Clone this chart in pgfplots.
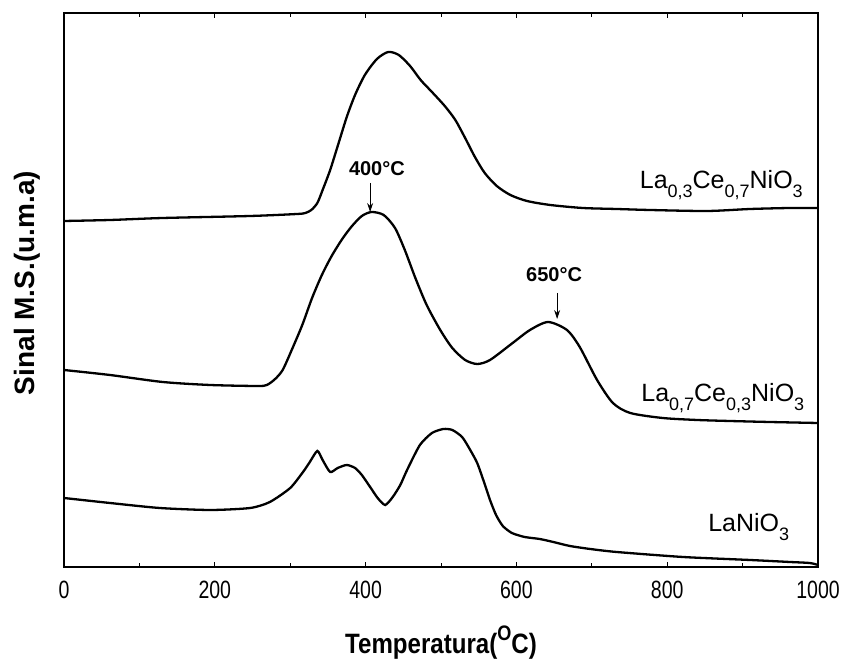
\documentclass[border=0pt]{standalone}
\usepackage{fontspec}
\setmainfont{Liberation Sans}
\newfontfamily\narrowfont[FakeStretch=0.78]{Liberation Sans}
\newfontfamily\labelfont[FakeStretch=0.86]{Liberation Sans}
\usepackage{pgfplots}
\pgfplotsset{compat=1.18}
\usetikzlibrary{arrows.meta}
\newcommand\sub[1]{\raisebox{-0.34em}{\fontsize{18}{18}\selectfont #1}}
\begin{document}
\begin{tikzpicture}
\begin{axis}[
  at={(0,0)}, anchor=south west,
  scale only axis, width=754pt, height=554pt,
  xmin=0, xmax=1000, ymin=0, ymax=554,
  axis line style={line width=1.4pt},
  xtick={0,200,...,1000}, minor x tick num=1,
  ytick=\empty,
  tick align=inside,
  major tick length=5pt, minor tick length=4pt,
  every tick/.style={black, line width=0.8pt},
  xticklabel style={font=\fontsize{25}{25}\selectfont\narrowfont, yshift=-11pt},
  /pgf/number format/assume math mode=true,
  /pgf/number format/1000 sep={},
  xlabel={\labelfont\bfseries Temperatura(\raisebox{0.85ex}{\fontsize{21}{21}\selectfont O}C)},
  xlabel style={font=\fontsize{28}{28}\selectfont, yshift=-20pt},
  ylabel={\bfseries Sinal M.S.(u.m.a)},
  ylabel style={font=\fontsize{28}{28}\selectfont, yshift=20pt, xshift=7pt},
  clip=false,
]
% La0.3Ce0.7NiO3
\addplot[black, line width=2.3pt, smooth, tension=0.45] coordinates {
(0,346) (61,347) (131,349) (247,351) (309,353) (320,354) (328,357) (336,364)
(343,377) (353,397) (363,421) (375,450) (386,472) (399,492) (415,508) (430,515)
(444,512) (459,501) (473,487) (488,475) (505,461) (519,447) (532,429) (545,410)
(558,394) (574,381) (592,372) (614,366) (645,362) (688,359) (733,358) (777,357)
(853,356) (910,358) (963,359) (1000,359)};
% La0.7Ce0.3NiO3
\addplot[black, line width=2.3pt, smooth, tension=0.45] coordinates {
(0,197) (61,192) (131,185) (194,182) (256,181) (269,182) (280,188) (290,197)
(302,217) (316,242) (329,269) (342,292) (355,311) (369,328) (382,341) (395,351)
(408,355) (424,352) (439,339) (452,317) (466,289) (481,262) (499,237) (515,219)
(532,207) (548,203) (565,207) (595,224) (618,237) (642,245) (667,237) (684,220)
(707,187) (728,164) (751,154) (794,149) (840,147) (883,146) (936,145) (1000,144)};
% LaNiO3
\addplot[black, line width=2.3pt, smooth, tension=0.4] coordinates {
(0,69) (61,64) (127,59) (194,57) (247,59) (273,65) (300,79) (317,95) (326,105)
(336,116) (343,107) (353,95) (363,99) (375,102) (386,99) (395,92) (406,80)
(416,69) (426,62) (436,70) (446,82) (455,97) (472,122) (488,134) (503,138)
(515,137) (528,130) (538,118) (548,104) (557,85) (565,67) (573,52) (582,41)
(594,34) (611,30) (631,28) (649,25) (671,21) (698,18) (733,15) (821,10) (910,7)
(963,5) (989,4) (1000,2)};
% labels
\node[anchor=base east, font=\fontsize{25}{25}\selectfont, inner sep=0pt] at (axis cs:980,378) {La\sub{0,3}Ce\sub{0,7}NiO\sub{3}};
\node[anchor=base east, font=\fontsize{25}{25}\selectfont, inner sep=0pt] at (axis cs:982,165) {La\sub{0,7}Ce\sub{0,3}NiO\sub{3}};
\node[anchor=base east, font=\fontsize{25}{25}\selectfont, inner sep=0pt] at (axis cs:962,35) {LaNiO\sub{3}};
% annotations
\node[anchor=base, font=\fontsize{20}{20}\selectfont\bfseries, inner sep=0pt] at (axis cs:415,391) {400°C};
\draw[-{Stealth[length=9pt,width=6pt]}, line width=0.9pt] (axis cs:406,384) -- (axis cs:406,355);
\node[anchor=base, font=\fontsize{20}{20}\selectfont\bfseries, inner sep=0pt] at (axis cs:650,285) {650°C};
\draw[-{Stealth[length=9pt,width=6pt]}, line width=0.9pt] (axis cs:654,274) -- (axis cs:654,248);
\end{axis}
\pgfresetboundingbox
\path (-64pt,-93pt) rectangle (779pt,567pt);
\end{tikzpicture}
\end{document}
